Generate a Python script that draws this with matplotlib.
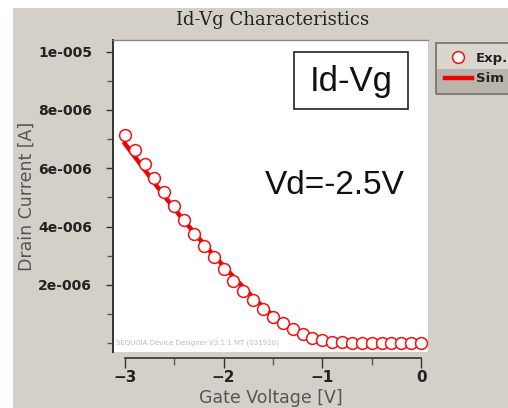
import numpy as np
import matplotlib
matplotlib.use("Agg")
import matplotlib.pyplot as plt
import matplotlib.ticker as mticker
from matplotlib.patches import Rectangle

# measured data (Exp.) and simulation (Sim), current in A
vg_exp = [-3.0, -2.9, -2.8, -2.7, -2.6, -2.5, -2.4, -2.3, -2.2, -2.1, -2.0,
          -1.9, -1.8, -1.7, -1.6, -1.5, -1.4, -1.3, -1.2, -1.1, -1.0,
          -0.9, -0.8, -0.7, -0.6, -0.5, -0.4, -0.3, -0.2, -0.1, 0.0]
id_exp = [7.13, 6.64, 6.15, 5.68, 5.19, 4.71, 4.23, 3.76, 3.34, 2.95, 2.55,
          2.15, 1.78, 1.47, 1.16, 0.90, 0.71, 0.50, 0.33, 0.19, 0.10,
          0.05, 0.03, 0.02, 0.02, 0.02, 0.02, 0.02, 0.02, 0.02, 0.02]
vg_sim = [-3.0, -2.9, -2.8, -2.7, -2.6, -2.5, -2.4, -2.3, -2.2, -2.1, -2.0,
          -1.9, -1.8, -1.7, -1.6, -1.5, -1.4, -1.3, -1.2, -1.1, -1.0,
          -0.9, -0.8, -0.6, -0.4, -0.2, 0.0]
id_sim = [6.85, 6.40, 5.95, 5.50, 5.05, 4.62, 4.20, 3.80, 3.40, 3.02, 2.65,
          2.28, 1.92, 1.57, 1.25, 0.95, 0.68, 0.45, 0.27, 0.14, 0.07,
          0.04, 0.03, 0.02, 0.02, 0.02, 0.02]
id_exp = np.array(id_exp) * 1e-6
id_sim = np.array(id_sim) * 1e-6

W, H = 508, 408
fig = plt.figure(figsize=(W / 100, H / 100), dpi=100, facecolor='white')
panel = '#d4d0c8'


def px_rect(x0, y0, x1, y1, **kw):
    # rectangle given in pixel coords (origin top-left)
    return Rectangle((x0 / W, 1 - y1 / H), (x1 - x0) / W, (y1 - y0) / H,
                     transform=fig.transFigure, **kw)


fig.patches.append(px_rect(13, 8, 520, 420, facecolor=panel, edgecolor='none', zorder=-10))
# legend row backgrounds
fig.patches.append(px_rect(437, 43, 520, 69, facecolor='#dad6ce', edgecolor='none', zorder=-9))
fig.patches.append(px_rect(437, 69, 520, 93, facecolor='#b9b5ad', edgecolor='none', zorder=-9))

ax = fig.add_axes([113 / W, 1 - 352 / H, (428 - 113) / W, (352 - 40) / H])
ax.set_facecolor('white')

sim_line, = ax.plot(vg_sim, id_sim, color='#ee0000', lw=3.2, label='Sim', zorder=2)
exp_pts, = ax.plot(vg_exp, id_exp, 'o', mfc='white', mec='#ee1111', mew=1.1, ms=8.5,
                   label='Exp.', zorder=3)

ax.set_xlim(-3.12, 0.07)
ax.set_ylim(-0.30e-6, 10.40e-6)

ax.set_xticks([-3, -2, -1, 0])
ax.xaxis.set_minor_locator(mticker.MultipleLocator(0.5))
ax.set_yticks([2e-6, 4e-6, 6e-6, 8e-6, 1e-5])
ax.yaxis.set_minor_locator(mticker.MultipleLocator(1e-6))


def sci(v, pos):
    m, e = f"{v:.0e}".split('e')
    return f"{m}e{int(e):+04d}".replace('+', '')


ax.yaxis.set_major_formatter(mticker.FuncFormatter(sci))
ax.xaxis.set_major_formatter(mticker.FuncFormatter(lambda v, p: f"{v:g}".replace('-', '\u2212')))

ax.spines['top'].set_color('#888888')
ax.spines['top'].set_linewidth(1.0)
ax.spines['right'].set_color('#cccccc')
ax.spines['right'].set_linewidth(0.8)
ax.spines['left'].set_color('#333333')
ax.spines['left'].set_linewidth(1.4)
ax.spines['bottom'].set_position(('outward', 4))
ax.spines['bottom'].set_bounds(-3, 0)
ax.spines['bottom'].set_color('#333333')
ax.spines['bottom'].set_linewidth(1.2)

ax.tick_params(axis='y', which='major', direction='out', length=5, width=1,
               color='#333333', labelsize=10, pad=10)
ax.tick_params(axis='y', which='minor', direction='out', length=4, width=1, color='#555555')
ax.tick_params(axis='x', which='major', direction='out', length=7, width=1,
               color='#333333', labelsize=11, pad=2)
ax.tick_params(axis='x', which='minor', direction='out', length=5, width=1, color='#555555')
for lab in ax.get_yticklabels() + ax.get_xticklabels():
    lab.set_fontweight('bold')
    lab.set_color('#222222')

ax.set_ylabel('Drain Current [A]', fontsize=12.5, color='#555555', labelpad=2)
ax.set_xlabel('Gate Voltage [V]', fontsize=12.5, color='#555555', labelpad=3)

fig.text(273 / W, 1 - 20 / H, 'Id-Vg Characteristics', ha='center', va='center',
         fontsize=13, family='DejaVu Serif', color='#222222')

fig.patches.append(px_rect(294, 52, 408, 109, facecolor='white', edgecolor='#222222',
                           lw=1.2, zorder=5))
fig.text(351 / W, 1 - 81 / H, 'Id-Vg', ha='center', va='center', fontsize=25,
         family='Liberation Sans', color='#111111', zorder=6)
fig.text(335 / W, 1 - 186 / H, 'Vd=-2.5V', ha='center', va='center', fontsize=24,
         family='Liberation Sans', color='#111111')

ax.text(0.01, 0.02, 'SEQUOIA Device Designer V3.1.1 MT (031920)', transform=ax.transAxes,
        fontsize=5, color='#bbbbbb', ha='left', va='bottom', zorder=1)

leg = fig.legend(handles=[exp_pts, sim_line], loc='upper left',
                 bbox_to_anchor=(436 / W, 1 - 43 / H), fontsize=9.5,
                 frameon=True, fancybox=False, facecolor='none', edgecolor='#555555',
                 handlelength=2.1, borderpad=0.65, labelspacing=0.6, handletextpad=0.3,
                 borderaxespad=0)
leg.get_frame().set_linewidth(1.2)
for t in leg.get_texts():
    t.set_fontweight('bold')
    t.set_color('#222222')

fig.savefig('out.png', dpi=100, facecolor=fig.get_facecolor())
